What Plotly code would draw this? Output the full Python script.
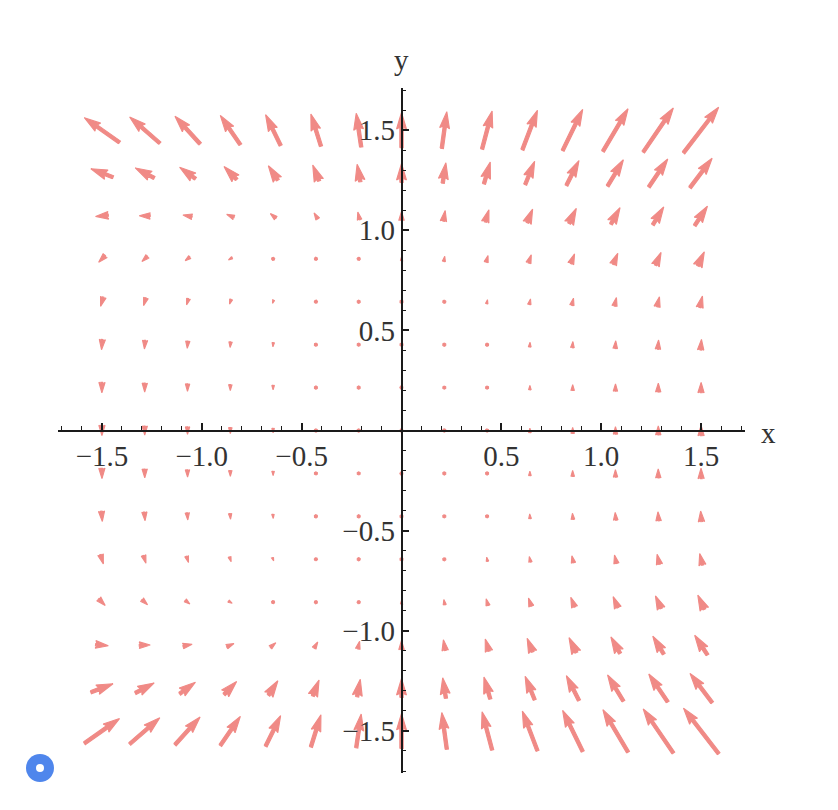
import math
import plotly.graph_objects as go

# grid of sample points (x across, y from top row to bottom row)
x_points = [-1.5, -1.2857, -1.0714, -0.8571, -0.6429, -0.4286, -0.2143, 0.0,
            0.2143, 0.4286, 0.6429, 0.8571, 1.0714, 1.2857, 1.5]
y_points = [1.5, 1.2857, 1.0714, 0.8571, 0.6429, 0.4286, 0.2143, 0.0,
            -0.2143, -0.4286, -0.6429, -0.8571, -1.0714, -1.2857, -1.5]

# horizontal component of each arrow (rows follow y_points)
u_values = [
    [-5.06, -4.34, -3.62, -2.89, -2.17, -1.45, -0.72, 0.00, 0.72, 1.45, 2.17, 2.89, 3.62, 4.34, 5.06],
    [-3.19, -2.73, -2.28, -1.82, -1.37, -0.91, -0.46, 0.00, 0.46, 0.91, 1.37, 1.82, 2.28, 2.73, 3.19],
    [-1.84, -1.58, -1.32, -1.05, -0.79, -0.53, -0.26, 0.00, 0.26, 0.53, 0.79, 1.05, 1.32, 1.58, 1.84],
    [-0.94, -0.81, -0.67, -0.54, -0.40, -0.27, -0.13, 0.00, 0.13, 0.27, 0.40, 0.54, 0.67, 0.81, 0.94],
    [-0.40, -0.34, -0.28, -0.23, -0.17, -0.11, -0.06, 0.00, 0.06, 0.11, 0.17, 0.23, 0.28, 0.34, 0.40],
    [-0.12, -0.10, -0.08, -0.07, -0.05, -0.03, -0.02, 0.00, 0.02, 0.03, 0.05, 0.07, 0.08, 0.10, 0.12],
    [-0.015, -0.013, -0.011, -0.008, -0.006, -0.004, -0.002, 0.00, 0.002, 0.004, 0.006, 0.008, 0.011, 0.013, 0.015],
    [0.00, 0.00, 0.00, 0.00, 0.00, 0.00, 0.00, 0.00, 0.00, 0.00, 0.00, 0.00, 0.00, 0.00, 0.00],
    [0.015, 0.013, 0.011, 0.008, 0.006, 0.004, 0.002, 0.00, -0.002, -0.004, -0.006, -0.008, -0.011, -0.013, -0.015],
    [0.12, 0.10, 0.08, 0.07, 0.05, 0.03, 0.02, 0.00, -0.02, -0.03, -0.05, -0.07, -0.08, -0.10, -0.12],
    [0.40, 0.34, 0.28, 0.23, 0.17, 0.11, 0.06, 0.00, -0.06, -0.11, -0.17, -0.23, -0.28, -0.34, -0.40],
    [0.94, 0.81, 0.67, 0.54, 0.40, 0.27, 0.13, 0.00, -0.13, -0.27, -0.40, -0.54, -0.67, -0.81, -0.94],
    [1.84, 1.58, 1.32, 1.05, 0.79, 0.53, 0.26, 0.00, -0.26, -0.53, -0.79, -1.05, -1.32, -1.58, -1.84],
    [3.19, 2.73, 2.28, 1.82, 1.37, 0.91, 0.46, 0.00, -0.46, -0.91, -1.37, -1.82, -2.28, -2.73, -3.19],
    [5.06, 4.34, 3.62, 2.89, 2.17, 1.45, 0.72, 0.00, -0.72, -1.45, -2.17, -2.89, -3.62, -4.34, -5.06],
]

# vertical component of each arrow (rows follow y_points)
v_values = [
    [3.56, 3.78, 3.99, 4.21, 4.42, 4.63, 4.85, 5.06, 5.28, 5.49, 5.71, 5.92, 6.13, 6.35, 6.56],
    [1.23, 1.45, 1.66, 1.88, 2.09, 2.30, 2.52, 2.73, 2.95, 3.16, 3.38, 3.59, 3.80, 4.02, 4.23],
    [-0.18, 0.03, 0.25, 0.46, 0.67, 0.89, 1.10, 1.32, 1.53, 1.75, 1.96, 2.17, 2.39, 2.60, 2.82],
    [-0.96, -0.75, -0.53, -0.32, -0.10, 0.11, 0.33, 0.54, 0.75, 0.97, 1.18, 1.40, 1.61, 1.83, 2.04],
    [-1.33, -1.11, -0.90, -0.69, -0.47, -0.26, -0.04, 0.17, 0.39, 0.60, 0.81, 1.03, 1.24, 1.46, 1.67],
    [-1.47, -1.25, -1.04, -0.82, -0.61, -0.39, -0.18, 0.03, 0.25, 0.46, 0.68, 0.89, 1.11, 1.32, 1.53],
    [-1.50, -1.28, -1.07, -0.85, -0.64, -0.43, -0.21, 0.00, 0.22, 0.43, 0.65, 0.86, 1.07, 1.29, 1.50],
    [-1.50, -1.29, -1.07, -0.86, -0.64, -0.43, -0.21, 0.00, 0.21, 0.43, 0.64, 0.86, 1.07, 1.29, 1.50],
    [-1.50, -1.28, -1.07, -0.85, -0.64, -0.43, -0.21, 0.00, 0.22, 0.43, 0.65, 0.86, 1.07, 1.29, 1.50],
    [-1.47, -1.25, -1.04, -0.82, -0.61, -0.39, -0.18, 0.03, 0.25, 0.46, 0.68, 0.89, 1.11, 1.32, 1.53],
    [-1.33, -1.11, -0.90, -0.69, -0.47, -0.26, -0.04, 0.17, 0.39, 0.60, 0.81, 1.03, 1.24, 1.46, 1.67],
    [-0.96, -0.75, -0.53, -0.32, -0.10, 0.11, 0.33, 0.54, 0.75, 0.97, 1.18, 1.40, 1.61, 1.83, 2.04],
    [-0.18, 0.03, 0.25, 0.46, 0.67, 0.89, 1.10, 1.32, 1.53, 1.75, 1.96, 2.17, 2.39, 2.60, 2.82],
    [1.23, 1.45, 1.66, 1.88, 2.09, 2.30, 2.52, 2.73, 2.95, 3.16, 3.38, 3.59, 3.80, 4.02, 4.23],
    [3.56, 3.78, 3.99, 4.21, 4.42, 4.63, 4.85, 5.06, 5.28, 5.49, 5.71, 5.92, 6.13, 6.35, 6.56],
]

major_ticks = [-1.5, -1.0, -0.5, 0.5, 1.0, 1.5]
major_labels = ["\u22121.5", "\u22121.0", "\u22120.5", "0.5", "1.0", "1.5"]

W, H = 830, 802
ml, mr, mt, mb = 50, 93, 80, 37
xr = [-1.72, 1.72]
yr = [-1.71, 1.71]
pw = W - ml - mr
ph = H - mt - mb
sx = pw / (xr[1] - xr[0])   # px per data unit
sy = ph / (yr[1] - yr[0])

arrow_scale = 6.95   # px per unit of vector magnitude
w = 3.3              # shaft width, px

px, py = [], []
for i, y0 in enumerate(y_points):
    for j, x0 in enumerate(x_points):
        u, v = u_values[i][j], v_values[i][j]
        L = math.hypot(u, v) * arrow_scale / w
        if L >= 5:
            ax_ = [0, L - 4.5, L - 5, L, L - 5, L - 4.5, 0, 0]
            ay_ = [0.5, 0.5, 1.5, 0, -1.5, -0.5, -0.5, 0.5]
        else:
            s = L / 5
            ax_ = [s * t for t in [0, 0.5, 0, 5, 0, 0.5, 0, 0]]
            ay_ = [s * t for t in [0.5, 0.5, 1.5, 0, -1.5, -0.5, -0.5, 0.5]]
        tip = ax_[3]
        ax_ = [t - 0.5 * tip for t in ax_]
        if L < 1:
            th = [k * math.pi / 3 for k in range(7)]
            ax_ = [0.5 * math.cos(t) for t in th]
            ay_ = [0.5 * math.sin(t) for t in th]
        a = math.atan2(v, u)
        c, s_ = math.cos(a), math.sin(a)
        for p, q in zip(ax_, ay_):
            px.append(x0 + (p * c - q * s_) * w / sx)
            py.append(y0 + (p * s_ + q * c) * w / sy)
        px.append(None)
        py.append(None)

col = '#f08a86'
fig = go.Figure()
fig.add_trace(go.Scatter(x=px, y=py, mode='lines', fill='toself', fillcolor=col,
                         line=dict(color=col, width=1.1), hoverinfo='skip', showlegend=False))

minor = [round(k * 0.1, 1) for k in range(-17, 18) if k % 5 != 0]
serif = 'Liberation Serif'
font = dict(family=serif, size=29, color='#333333')
axc = '#1a1a1a'
common = dict(showgrid=False, zeroline=False, showline=True, linecolor=axc, linewidth=1.5,
              ticks='inside', ticklen=7, tickwidth=1.5, tickcolor=axc,
              tickvals=major_ticks, ticktext=major_labels, tickfont=font,
              minor=dict(tickvals=minor, ticks='inside', ticklen=4, tickwidth=1.2, tickcolor=axc),
              anchor='free', position=0.5)
fig.update_layout(
    width=W, height=H, margin=dict(l=ml, r=mr, t=mt, b=mb),
    plot_bgcolor='white', paper_bgcolor='white',
    xaxis=dict(range=xr, side='bottom', **common),
    yaxis=dict(range=yr, side='left', **common),
    annotations=[
        dict(text='x', xref='paper', yref='paper', x=(760 - ml) / pw, y=(H - mb - 425) / ph, showarrow=False,
             xanchor='center', yanchor='middle', font=dict(family=serif, size=29, color='#333333')),
        dict(text='y', xref='paper', yref='paper', x=0.5, y=(H - mb - 52) / ph, showarrow=False,
             xanchor='center', yanchor='middle', font=dict(family=serif, size=29, color='#333333')),
    ],
    shapes=[
        dict(type='circle', xref='paper', yref='paper', x0=(32 - 14 - ml) / pw, x1=(32 + 14 - ml) / pw,
             y0=(H - mb - 760 - 14) / ph, y1=(H - mb - 760 + 14) / ph, fillcolor='#4f86ec', line=dict(width=0)),
        dict(type='circle', xref='paper', yref='paper', x0=(32 - 4 - ml) / pw, x1=(32 + 4 - ml) / pw,
             y0=(H - mb - 760 - 4) / ph, y1=(H - mb - 760 + 4) / ph, fillcolor='white', line=dict(width=0)),
    ],
)
fig.write_html("out.html")
